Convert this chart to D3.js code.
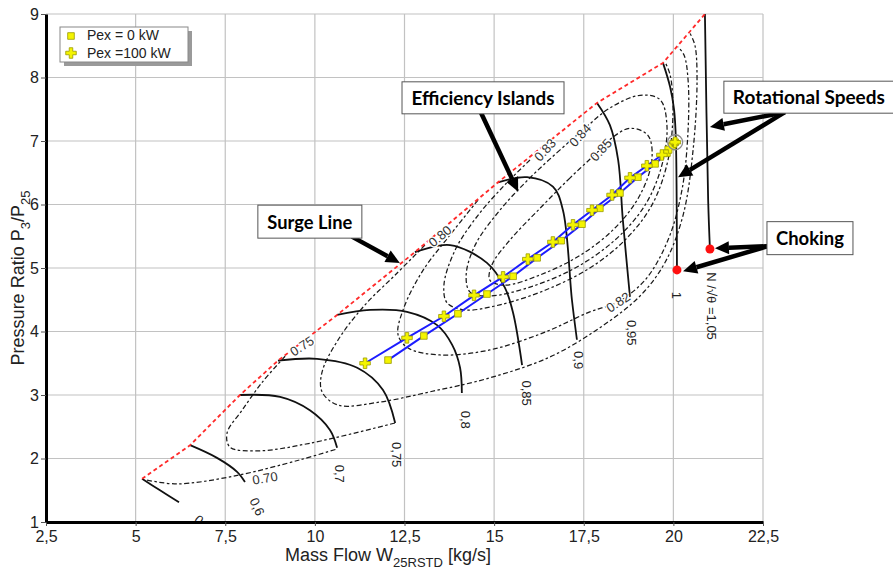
<!DOCTYPE html>
<html lang="en">
<head>
<meta charset="utf-8">
<title>Compressor map</title>
<script src="https://cdn.jsdelivr.net/npm/d3@7/dist/d3.min.js"></script>
<style>
  html, body { margin: 0; padding: 0; background: #ffffff; }
  #chart svg { display: block; }
  #chart text { font-family: "Liberation Sans", Arial, sans-serif; }
  #chart text.callout { font-family: Lato, "Open Sans", sans-serif; font-weight: 700; }
</style>
</head>
<body>
<div id="chart"></div>
<script>
// --- axis ticks ---
const xTicks = [2.5, 5, 7.5, 10, 12.5, 15, 17.5, 20, 22.5];
const yTicks = [1, 2, 3, 4, 5, 6, 7, 8, 9];

// --- surge line (mass flow kg/s, pressure ratio) ---
const surgeLine = [[5.18,1.68],[6.52,2.21],[7.91,3.00],[8.97,3.54],[10.62,4.26],[12.79,5.25],[15.11,6.35],[17.87,7.60],[19.71,8.23],[20.88,9.00]];

// --- corrected speed lines ---
const speed050 = [[5.18,1.68],[5.68,1.50],[6.21,1.31]];
const speed060 = [[6.52,2.21],[7.27,2.01],[7.83,1.79],[8.05,1.63]];
const speed070 = [[7.91,3.00],[9.03,2.97],[9.86,2.76],[10.42,2.45],[10.62,2.17]];
const speed075 = [[8.97,3.54],[10.06,3.57],[11.18,3.43],[11.90,3.08],[12.24,2.56]];
const speed080 = [[10.62,4.26],[11.54,4.34],[12.57,4.31],[13.41,4.10],[13.83,3.79],[14.05,3.43],[14.10,3.03]];
const speed085 = [[12.79,5.25],[13.77,5.36],[14.80,5.08],[15.30,4.69],[15.53,4.29],[15.78,3.47]];
const speed090 = [[15.11,6.35],[15.92,6.43],[16.64,6.28],[16.92,5.91],[17.17,4.50],[17.31,3.87]];
const speed095 = [[17.87,7.60],[18.23,7.25],[18.46,6.70],[18.59,5.76],[18.79,4.54]];
const speed100 = [[19.71,8.23],[19.91,7.85],[20.02,7.49],[20.07,7.02],[20.10,4.97]];
const speed105 = [[20.88,9.00],[20.97,6.07],[21.02,5.30]];

// label, x, y, rotation
const speedLabels = [
  ["0,5", 6.88, 0.98, 40],
  ["0,6", 8.39, 1.24, 65],
  ["0,7", 10.70, 1.76, 90],
  ["0,75", 12.29, 2.06, 90],
  ["0,8", 14.19, 2.61, 90],
  ["0,85", 15.89, 3.03, 90],
  ["0,9", 17.34, 3.55, 90],
  ["0,95", 18.82, 3.98, 90],
  ["1", 20.10, 4.57, 90],
  ["N /\u221A\u03B8 =1,05", 21.05, 4.40, 90]
];

// --- efficiency islands ---
const eff070 = [[5.32,1.66],[6.15,1.60],[7.72,1.72],[9.59,1.98],[10.62,2.15]];
const eff075 = [[9.17,3.61],[8.53,3.20],[7.97,2.76],[7.55,2.40],[7.63,2.18],[8.41,2.12],[9.86,2.24],[12.24,2.56]];
const eff080 = [[13.07,5.36],[12.24,4.89],[11.40,4.42],[10.65,3.87],[10.20,3.36],[10.20,3.05],[10.65,2.84],[11.82,2.89],[13.21,3.05],[14.88,3.27],[16.56,3.60],[17.95,4.06],[19.07,4.56],[19.77,5.09],[20.27,5.83],[20.55,6.86],[20.66,7.96],[20.60,8.51],[20.46,8.70]];
const eff082 = [[14.55,6.07],[13.77,5.52],[12.99,4.94],[12.46,4.34],[12.32,3.95],[12.60,3.74],[13.49,3.63],[14.88,3.71],[16.42,3.99],[17.67,4.31],[18.43,4.46],[19.21,4.81],[19.85,5.44],[20.24,6.23],[20.41,7.17],[20.41,7.96],[20.30,8.35],[20.13,8.48]];
const eff083 = [[16.00,6.70],[15.30,6.31],[14.55,5.83],[13.91,5.28],[13.60,4.73],[13.69,4.45],[14.19,4.34],[15.16,4.42],[16.42,4.65],[17.67,5.00],[18.65,5.44],[19.40,5.99],[19.85,6.70],[19.99,7.49],[19.91,8.04],[19.77,8.24]];
const eff084 = [[17.53,7.20],[16.84,6.86],[16.00,6.42],[15.16,5.91],[14.47,5.36],[14.22,4.89],[14.33,4.62],[14.88,4.56],[16.00,4.70],[17.26,5.00],[18.37,5.44],[19.21,5.99],[19.68,6.62],[19.82,7.25],[19.63,7.65],[19.07,7.72],[18.23,7.52]];
const eff085 = [[17.95,6.86],[17.12,6.42],[16.28,5.94],[15.44,5.44],[14.94,5.05],[14.88,4.81],[15.30,4.73],[16.28,4.89],[17.40,5.20],[18.37,5.63],[19.07,6.15],[19.40,6.70],[19.29,7.09],[18.79,7.20],[18.29,7.05]];

const effLabels = [
  ["0.70", 8.61, 1.69, -10],
  ["0.75", 9.64, 3.77, -33],
  ["0.80", 13.49, 5.50, -40],
  ["0.83", 16.42, 6.86, -48],
  ["0.84", 17.40, 7.09, -48],
  ["0.85", 17.98, 6.86, -48],
  ["0.82", 18.46, 4.46, -33]
];

// --- operating lines ---
const pex0 = [[12.04,3.55],[13.04,3.93],[13.99,4.28],[14.80,4.59],[15.53,4.87],[16.20,5.16],[16.87,5.43],[17.45,5.69],[17.95,5.94],[18.51,6.18],[19.01,6.43],[19.49,6.64],[19.82,6.81],[20.05,6.98]];
const pex100 = [[11.40,3.50],[12.57,3.90],[13.60,4.24],[14.44,4.57],[15.25,4.86],[15.94,5.14],[16.64,5.41],[17.20,5.68],[17.73,5.91],[18.29,6.15],[18.79,6.42],[19.26,6.61],[19.68,6.78],[19.91,6.89],[20.05,6.98]];
const designPoint = [20.05, 6.98];
const chokePoints = [[20.10,4.97],[21.02,5.30]];

// callouts: box centre in data units, arrow tips in data units
const callouts = [
  { text: "Efficiency Islands", cx: 14.69, cy: 7.68, w: 162, h: 32, tw: 143, tail: [-2, 15], tips: [[15.67,6.20]] },
  { text: "Rotational Speeds", cx: 23.78, cy: 7.69, w: 170, h: 32, tw: 152, tail: [-24, 15], tips: [[21.02,7.22],[20.13,6.43]] },
  { text: "Surge Line", cx: 9.86, cy: 5.73, w: 104, h: 33, tw: 85, tail: [42, 15], tips: [[12.37,5.08]] },
  { text: "Choking", cx: 23.81, cy: 5.47, w: 86, h: 33, tw: 68, tail: [-42, 8], tips: [[21.16,5.31],[20.27,4.95]] }
];

// ---- render ----
const width = 893, height = 572;
const plot = { left: 46, right: 763, top: 14, bottom: 522 };

const x = d3.scaleLinear().domain([2.5, 22.5]).range([plot.left, plot.right]);
const y = d3.scaleLinear().domain([1, 9]).range([plot.bottom, plot.top]);
const comma = d3.formatLocale({ decimal: ",", thousands: ".", grouping: [3], currency: ["", ""] }).format("~g");

const svg = d3.select("#chart").append("svg")
  .attr("width", width).attr("height", height);

svg.append("defs").append("clipPath").attr("id", "plot-clip").append("rect")
  .attr("x", plot.left).attr("y", plot.top)
  .attr("width", plot.right - plot.left).attr("height", plot.bottom - plot.top);

// grid
const grid = svg.append("g").attr("stroke", "#c2c2c2").attr("stroke-width", 1.2);
grid.selectAll(".gx").data(xTicks).join("line").attr("class", "gx")
  .attr("x1", d => x(d)).attr("x2", d => x(d)).attr("y1", plot.top).attr("y2", plot.bottom);
grid.selectAll(".gy").data(yTicks).join("line").attr("class", "gy")
  .attr("y1", d => y(d)).attr("y2", d => y(d)).attr("x1", plot.left).attr("x2", plot.right);

const line = d3.line().x(d => x(d[0])).y(d => y(d[1]));
const smooth = d3.line().x(d => x(d[0])).y(d => y(d[1])).curve(d3.curveCatmullRom.alpha(0.5));
const smoothClosed = d3.line().x(d => x(d[0])).y(d => y(d[1])).curve(d3.curveCatmullRomClosed.alpha(0.5));

const map = svg.append("g").attr("clip-path", "url(#plot-clip)");

// efficiency contours (dashed)
const effOpen = [eff070, eff075, eff080, eff082, eff083];
const effClosed = [eff084, eff085];
const dash = "5,2.5,2.5,2.5";
map.append("g").selectAll("path").data(effOpen).join("path")
  .attr("d", smooth).attr("fill", "none")
  .attr("stroke", "#1a1a1a").attr("stroke-width", 1.25).attr("stroke-dasharray", dash);
map.append("g").selectAll("path").data(effClosed).join("path")
  .attr("d", smoothClosed).attr("fill", "none")
  .attr("stroke", "#1a1a1a").attr("stroke-width", 1.25).attr("stroke-dasharray", dash);

// speed lines (solid)
const speeds = [speed050, speed060, speed070, speed075, speed080, speed085, speed090, speed095, speed100, speed105];
map.append("g").selectAll("path").data(speeds).join("path")
  .attr("d", smooth).attr("fill", "none")
  .attr("stroke", "#111").attr("stroke-width", 1.8);

// surge line
map.append("path").datum(surgeLine).attr("d", line).attr("fill", "none")
  .attr("stroke", "#ff2a2a").attr("stroke-width", 1.8).attr("stroke-dasharray", "4,3");

// contour labels
map.append("g").selectAll("text").data(effLabels).join("text")
  .attr("transform", d => `translate(${x(d[1])},${y(d[2])}) rotate(${d[3]})`)
  .attr("text-anchor", "middle").attr("dominant-baseline", "central")
  .attr("font-size", 13).attr("fill", "#333")
  .attr("stroke", "#fff").attr("stroke-width", 3).attr("paint-order", "stroke")
  .text(d => d[0]);

// speed labels
map.append("g").selectAll("text").data(speedLabels).join("text")
  .attr("transform", d => `translate(${x(d[1])},${y(d[2])}) rotate(${d[3]})`)
  .attr("text-anchor", "middle").attr("dominant-baseline", "central")
  .attr("font-size", 13).attr("fill", "#222")
  .text(d => d[0]);

// operating lines
const blue = "#1c1cff";
svg.append("path").datum(pex100).attr("d", line).attr("fill", "none").attr("stroke", blue).attr("stroke-width", 2);
svg.append("path").datum(pex0).attr("d", line).attr("fill", "none").attr("stroke", blue).attr("stroke-width", 2);

const square = d3.symbol(d3.symbolSquare, 44);
const cross = d3.symbol(d3.symbolCross, 62);
svg.append("g").selectAll("path").data(pex0).join("path")
  .attr("transform", d => `translate(${x(d[0])},${y(d[1])})`).attr("d", square)
  .attr("fill", "#f4f400").attr("stroke", "#9a9a00").attr("stroke-width", 0.8);
svg.append("g").selectAll("path").data(pex100).join("path")
  .attr("transform", d => `translate(${x(d[0])},${y(d[1])})`).attr("d", cross)
  .attr("fill", "#f4f400").attr("stroke", "#9a9a00").attr("stroke-width", 0.8);

svg.append("circle").attr("cx", x(designPoint[0])).attr("cy", y(designPoint[1])).attr("r", 7.5)
  .attr("fill", "none").attr("stroke", "#8a8a8a").attr("stroke-width", 1.3);

svg.append("g").selectAll("circle").data(chokePoints).join("circle")
  .attr("cx", d => x(d[0])).attr("cy", d => y(d[1])).attr("r", 4.5).attr("fill", "#ff1010");

// axes
const xAxis = svg.append("g").attr("transform", `translate(0,${plot.bottom})`)
  .call(d3.axisBottom(x).tickValues(xTicks).tickFormat(comma).tickSize(4).tickSizeOuter(0).tickPadding(5));
const yAxis = svg.append("g").attr("transform", `translate(${plot.left},0)`)
  .call(d3.axisLeft(y).tickValues(yTicks).tickFormat(comma).tickSize(5).tickSizeOuter(0).tickPadding(2));
[xAxis, yAxis].forEach(a => {
  a.select(".domain").attr("stroke", "#000").attr("stroke-width", 3);
  a.selectAll(".tick line").attr("stroke", "#555");
  a.selectAll(".tick text").attr("font-size", 16).attr("fill", "#222");
});

// axis titles
const xt = svg.append("text").attr("x", 388).attr("y", 561).attr("text-anchor", "middle")
  .attr("font-size", 18).attr("fill", "#222");
xt.append("tspan").text("Mass Flow W");
xt.append("tspan").attr("font-size", 13).attr("dy", 6).text("25RSTD");
xt.append("tspan").attr("dy", -6).text(" [kg/s]");

const yt = svg.append("text").attr("transform", "translate(24,278) rotate(-90)").attr("text-anchor", "middle")
  .attr("font-size", 18).attr("fill", "#222");
yt.append("tspan").text("Pressure Ratio P");
yt.append("tspan").attr("font-size", 13).attr("dy", 6).text("3");
yt.append("tspan").attr("dy", -6).text("/P");
yt.append("tspan").attr("font-size", 13).attr("dy", 6).text("25");

// callouts with arrows
function arrow(g, x1, y1, x2, y2) {
  const dx = x2 - x1, dy = y2 - y1, len = Math.hypot(dx, dy);
  const ux = dx / len, uy = dy / len, head = 14, half = 6.5;
  const bx = x2 - ux * head, by = y2 - uy * head;
  g.append("line").attr("x1", x1).attr("y1", y1).attr("x2", bx).attr("y2", by)
    .attr("stroke", "#000").attr("stroke-width", 4.5);
  g.append("path")
    .attr("d", `M${x2},${y2}L${bx - uy * half},${by + ux * half}L${bx + uy * half},${by - ux * half}Z`)
    .attr("fill", "#000");
}

const notes = svg.append("g");
callouts.forEach(c => {
  const cx = x(c.cx), cy = y(c.cy);
  const g = notes.append("g");
  c.tips.forEach(t => arrow(g, cx + c.tail[0], cy + c.tail[1], x(t[0]), y(t[1])));
  g.append("rect").attr("x", cx - c.w / 2).attr("y", cy - c.h / 2).attr("width", c.w).attr("height", c.h)
    .attr("fill", "#fff").attr("stroke", "#555").attr("stroke-width", 1);
  g.append("text").attr("class", "callout").attr("x", cx).attr("y", cy)
    .attr("text-anchor", "middle").attr("dominant-baseline", "central")
    .attr("font-size", 18).attr("textLength", c.tw).attr("lengthAdjust", "spacingAndGlyphs")
    .attr("fill", "#000").text(c.text);
});

// legend
const legend = svg.append("g").attr("transform", "translate(60,27)");
legend.append("rect").attr("x", 4).attr("y", 4).attr("width", 128).attr("height", 35).attr("fill", "#9a9a9a");
legend.append("rect").attr("width", 128).attr("height", 35).attr("fill", "#fff").attr("stroke", "#888");
legend.append("path").attr("transform", "translate(11,9)").attr("d", square)
  .attr("fill", "#f4f400").attr("stroke", "#9a9a00").attr("stroke-width", 0.8);
legend.append("path").attr("transform", "translate(11,26)").attr("d", cross)
  .attr("fill", "#f4f400").attr("stroke", "#9a9a00").attr("stroke-width", 0.8);
legend.append("text").attr("x", 27).attr("y", 13).attr("font-size", 14).attr("fill", "#222").text("Pex = 0 kW");
legend.append("text").attr("x", 27).attr("y", 31).attr("font-size", 14).attr("fill", "#222").text("Pex =100 kW");
</script>
</body>
</html>
